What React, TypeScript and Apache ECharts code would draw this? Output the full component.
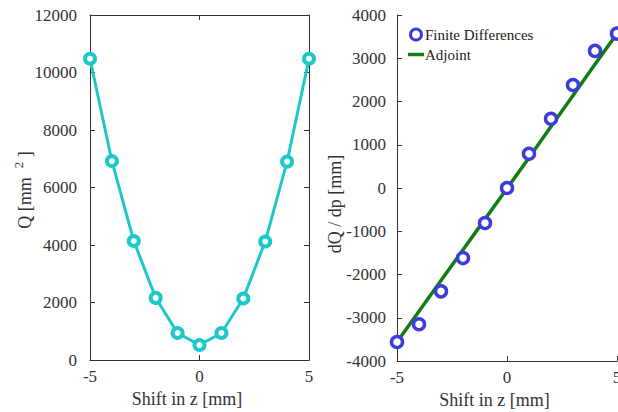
import React, { useEffect, useRef } from "react";
import * as echarts from "echarts";

const shiftZ = [-5, -4, -3, -2, -1, 0, 1, 2, 3, 4, 5];
const qValues = [10480, 6920, 4140, 2160, 940, 520, 940, 2140, 4120, 6900, 10480];
const fdValues = [-3560, -3150, -2390, -1620, -810, 0, 790, 1600, 2380, 3170, 3570];
const adjointValues = [-3560, -2850, -2140, -1430, -720, -10, 700, 1420, 2140, 2860, 3570];

const FONT = "Liberation Serif";
const TXT = "#333333";
const CYAN = "#1cc8c8";
const BLUE = "#3c3cdc";
const GREEN = "#127d12";

export default function App() {
  const ref = useRef<HTMLDivElement>(null);
  useEffect(() => {
    if (!ref.current) return;
    const chart = echarts.init(ref.current, undefined, { renderer: "svg" });
    const label = { fontFamily: FONT, fontSize: 17, color: TXT, formatter: (v: number) => String(v) };
    const axisLine = { show: true, onZero: false, lineStyle: { color: TXT, width: 1 } };
    const tick = { show: true, inside: true, length: 5, lineStyle: { color: TXT } };
    const xName = {
      name: "Shift in z [mm]",
      nameLocation: "middle" as const,
      nameGap: 27,
      nameTextStyle: { fontFamily: FONT, fontSize: 18, color: TXT, padding: [0, 25, 0, 0] },
    };
    chart.setOption({
      animation: false,
      backgroundColor: "#ffffff",
      textStyle: { fontFamily: FONT },
      grid: [
        { left: 90, width: 219, top: 15, bottom: 52, outerBoundsMode: "none", containLabel: false },
        { left: 397, width: 220, top: 15, bottom: 51, outerBoundsMode: "none", containLabel: false },
      ],
      xAxis: [
        {
          type: "value", gridIndex: 0, min: -5, max: 5, interval: 5,
          axisLine, axisTick: tick, splitLine: { show: false },
          axisLabel: { ...label, margin: 8 }, ...xName,
        },
        {
          type: "value", gridIndex: 0, position: "top", min: -5, max: 5, interval: 5,
          axisLine, axisTick: tick, splitLine: { show: false }, axisLabel: { show: false },
        },
        {
          type: "value", gridIndex: 1, min: -5, max: 5, interval: 5,
          axisLine, axisTick: tick, splitLine: { show: false },
          axisLabel: { ...label, margin: 8 }, ...xName,
        },
      ],
      yAxis: [
        {
          type: "value", gridIndex: 0, min: 0, max: 12000, interval: 2000,
          axisLine, axisTick: tick, splitLine: { show: false },
          axisLabel: { ...label, margin: 13 },
        },
        {
          type: "value", gridIndex: 0, position: "right", min: 0, max: 12000, interval: 2000,
          axisLine, axisTick: tick, splitLine: { show: false }, axisLabel: { show: false },
        },
        {
          type: "value", gridIndex: 1, min: -4000, max: 4000, interval: 1000,
          axisLine, axisTick: tick, splitLine: { show: false },
          axisLabel: { ...label, margin: 11 },
        },
      ],
      legend: {
        orient: "vertical",
        left: 403,
        top: 22,
        itemWidth: 16,
        itemHeight: 11,
        itemGap: 5,
        textStyle: { fontFamily: FONT, fontSize: 15, color: "#222", padding: [0, 0, 0, -4] },
        data: [
          {
            name: "Finite Differences",
            icon: "circle",
            itemStyle: { color: "#ffffff", borderColor: BLUE, borderWidth: 3 },
          },
          {
            name: "Adjoint",
            icon: "path://M0,0 L16,0 L16,3.5 L0,3.5 Z",
            itemStyle: { color: GREEN },
          },
        ],
      },
      graphic: [
        {
          type: "text",
          x: 23,
          y: 190,
          rotation: Math.PI / 2,
          style: {
            text: "{n|Q [mm  }{s|2}{n| ]}",
            align: "center",
            verticalAlign: "middle",
            fill: TXT,
            rich: {
              n: { fontFamily: FONT, fontSize: 18, fill: TXT, lineHeight: 22, verticalAlign: "bottom" },
              s: { fontFamily: FONT, fontSize: 13, fill: TXT, lineHeight: 22, verticalAlign: "top", padding: [0, 0, 8, 0] },
            },
          },
        },
        {
          type: "text",
          x: 335,
          y: 204,
          rotation: Math.PI / 2,
          style: {
            text: "dQ / dp [mm]",
            align: "center",
            verticalAlign: "middle",
            fill: TXT,
            fontFamily: FONT,
            fontSize: 18,
          },
        },
      ],
      series: [
        {
          name: "Q",
          type: "line",
          xAxisIndex: 0,
          yAxisIndex: 0,
          data: shiftZ.map((x, i) => [x, qValues[i]]),
          lineStyle: { color: CYAN, width: 3 },
          itemStyle: { color: "#ffffff", borderColor: CYAN, borderWidth: 4 },
          symbol: "circle",
          symbolSize: 10,
        },
        {
          name: "Adjoint",
          type: "line",
          xAxisIndex: 2,
          yAxisIndex: 2,
          data: shiftZ.map((x, i) => [x, adjointValues[i]]),
          lineStyle: { color: GREEN, width: 3.5 },
          itemStyle: { color: GREEN },
          symbol: "none",
          z: 2,
        },
        {
          name: "Finite Differences",
          type: "scatter",
          xAxisIndex: 2,
          yAxisIndex: 2,
          data: shiftZ.map((x, i) => [x, fdValues[i]]),
          symbol: "circle",
          symbolSize: 11,
          itemStyle: { color: "#ffffff", borderColor: BLUE, borderWidth: 3.5, opacity: 1 },
          z: 3,
        },
      ],
    });
    return () => chart.dispose();
  }, []);
  return <div ref={ref} style={{ width: 618, height: 412, position: "absolute", left: 0, top: 0 }} />;
}
